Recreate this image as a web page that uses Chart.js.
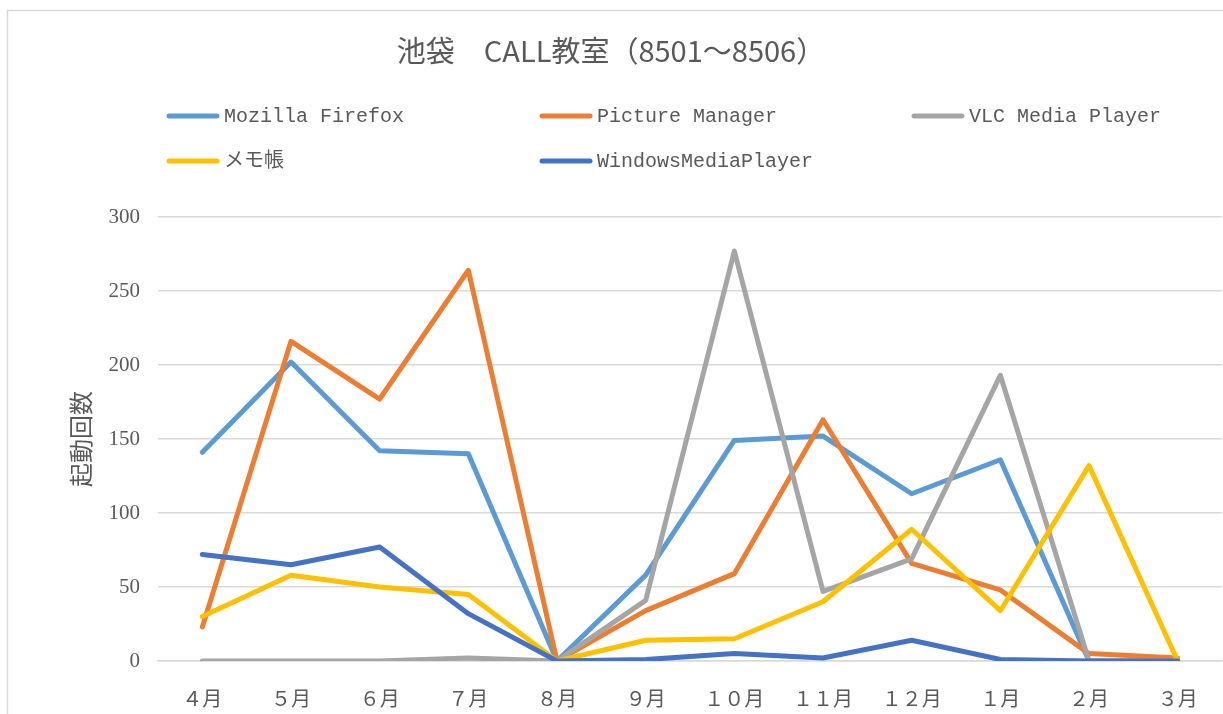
<!DOCTYPE html>
<html lang="ja">

<head>
    <meta charset="UTF-8">
    <script src="https://cdn.jsdelivr.net/npm/chart.js"></script>
    <title>池袋 CALL教室</title>
    <style>
        body {
            margin: 0;
            background: #fff;
        }

        .chart-box {
            width: 1223px;
            height: 714px;
        }
    </style>
</head>

<body>
    <div class="chart-box">
        <canvas id="callChart"></canvas>
    </div>
    <script>
        const months = ['４月', '５月', '６月', '７月', '８月', '９月', '１０月', '１１月', '１２月', '１月', '２月', '３月'];
        const firefox = [141, 202, 142, 140, 0, 58, 149, 152, 113, 136, 0, 0];
        const pictureManager = [23, 216, 177, 264, 0, 34, 59, 163, 66, 48, 5, 2];
        const vlc = [0, 0, 0, 2, 0, 41, 277, 47, 69, 193, 0, 0];
        const memo = [30, 58, 50, 45, 0, 14, 15, 40, 89, 34, 132, 0];
        const wmp = [72, 65, 77, 32, 0, 1, 5, 2, 14, 1, 0, 0];
        const yTicks = [0, 50, 100, 150, 200, 250, 300];

        const textColor = '#595959';
        const gridColor = '#d9d9d9';
        const cjk = '"Noto Sans CJK JP", sans-serif';
        const serif = '"Liberation Serif", "Noto Sans CJK JP", serif';
        const mono = '"Liberation Mono", "Noto Sans CJK JP", monospace';

        function serie(label, data, color, order) {
            return {
                label: label,
                data: data,
                borderColor: color,
                backgroundColor: color,
                borderWidth: 5,
                pointRadius: 0,
                pointHoverRadius: 0,
                borderCapStyle: 'round',
                borderJoinStyle: 'round',
                tension: 0,
                order: order
            };
        }

        // titulo, legenda e moldura desenhados a mao
        const decoracao = {
            id: 'decoracao',
            afterDraw(chart) {
                const ctx = chart.ctx;
                ctx.save();
                ctx.strokeStyle = gridColor;
                ctx.lineWidth = 1.5;
                ctx.beginPath();
                ctx.moveTo(7.5, chart.height);
                ctx.lineTo(7.5, 10.5);
                ctx.lineTo(chart.width, 10.5);
                ctx.stroke();

                ctx.fillStyle = textColor;
                ctx.textAlign = 'center';
                ctx.textBaseline = 'middle';
                ctx.font = '29px ' + cjk;
                ctx.fillText('池袋　CALL教室（8501～8506）', 611, 51);

                const cols = [167, 540, 912];
                const rows = [116, 161];
                ctx.textAlign = 'left';
                ctx.font = '20px ' + mono;
                chart.data.datasets.forEach(function (ds, i) {
                    const x = cols[i % 3];
                    const y = rows[Math.floor(i / 3)];
                    ctx.strokeStyle = ds.borderColor;
                    ctx.lineWidth = 5;
                    ctx.lineCap = 'round';
                    ctx.beginPath();
                    ctx.moveTo(x + 2, y);
                    ctx.lineTo(x + 50, y);
                    ctx.stroke();
                    ctx.fillText(ds.label, x + 57, y + 1);
                });
                ctx.restore();
            }
        };

        new Chart(document.getElementById('callChart'), {
            type: 'line',
            data: {
                labels: months,
                datasets: [
                    serie('Mozilla Firefox', firefox, '#5B9BD5', 4),
                    serie('Picture Manager', pictureManager, '#ED7D31', 3),
                    serie('VLC Media Player', vlc, '#A5A5A5', 2),
                    serie('メモ帳', memo, '#FFC000', 1),
                    serie('WindowsMediaPlayer', wmp, '#4472C4', 0)
                ]
            },
            options: {
                responsive: true,
                maintainAspectRatio: false,
                animation: false,
                layout: {
                    padding: { top: 217, right: 1, bottom: 0, left: 0 }
                },
                plugins: {
                    legend: { display: false },
                    title: { display: false },
                    tooltip: { enabled: false }
                },
                scales: {
                    x: {
                        offset: true,
                        grid: { display: false },
                        border: { display: true, color: gridColor, width: 1.5 },
                        ticks: {
                            color: textColor,
                            font: { family: cjk, size: 20 },
                            padding: 17,
                            maxRotation: 0,
                            autoSkip: false
                        },
                        afterFit(scale) {
                            scale.height = 53;
                        }
                    },
                    y: {
                        min: 0,
                        max: 300,
                        afterBuildTicks(scale) {
                            scale.ticks = yTicks.map(v => ({ value: v }));
                        },
                        grid: {
                            color: gridColor,
                            lineWidth: 1.5,
                            drawTicks: false
                        },
                        border: { display: false },
                        ticks: {
                            color: textColor,
                            font: { family: serif, size: 21 },
                            padding: 18
                        },
                        title: {
                            display: true,
                            text: '起動回数',
                            color: textColor,
                            font: { family: cjk, size: 24 },
                            padding: { top: 66, bottom: 0 }
                        },
                        afterFit(scale) {
                            scale.width = 158;
                        }
                    }
                }
            },
            plugins: [decoracao]
        });
    </script>
</body>

</html>
